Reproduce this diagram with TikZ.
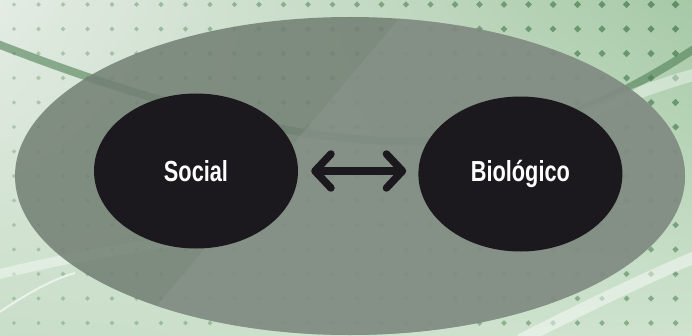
\documentclass[tikz,border=0pt]{standalone}
\usepackage{fontspec}
\newfontfamily\labelfont{Liberation Sans}[FakeStretch=0.75]
\usetikzlibrary{
  positioning,
  shapes.geometric,
  arrows.meta,
  shadings
}
\definecolor{bgpale}{HTML}{E4ECE4}
\definecolor{bggreen}{HTML}{A6C9A6}
\definecolor{bglow}{HTML}{C9DEC9}
\definecolor{bglowright}{HTML}{CFE3CF}
\definecolor{dotgreen}{HTML}{2F7A38}
\definecolor{swoosh}{HTML}{4F7F55}
\definecolor{ringgray}{HTML}{727F73}
\definecolor{ringlight}{HTML}{8A938C}
\definecolor{blob}{HTML}{1B191D}
\tikzset{
  field/.style={ellipse, fill=ringgray, fill opacity=0.86,
    minimum width=670pt, minimum height=318pt, inner sep=0pt},
  pole/.style={ellipse, fill=blob, text=white,
    font=\labelfont\bfseries\fontsize{29}{30}\selectfont,
    minimum width=204pt, minimum height=155pt, inner sep=0pt},
  link/.style={line width=7.5pt, draw=blob,
    {Straight Barb[length=16pt,width=34pt,round]}-{Straight Barb[length=16pt,width=34pt,round]},
    shorten <=13pt, shorten >=12pt}
}

\begin{document}
\begin{tikzpicture}[x=1pt,y=1pt]
  % backdrop: tinted wash, dot grid and swooshes
  \shade[upper left=bgpale, upper right=bggreen, lower left=bglow, lower right=bglowright]
    (0,0) rectangle (692,335);
  \useasboundingbox (0,0) rectangle (692,335);
  \foreach \i in {0,...,27}
    \foreach \j in {0,...,13} {
      \pgfmathsetmacro\t{\i/27*(0.5+0.5*\j/13)}
      \fill[dotgreen!70!gray, opacity={0.3+0.45*\t}] (14+24.5*\i, 12+24.5*\j)
        +(0,{2.2+1.6*\t}) -- +({2.2+1.6*\t},0) -- +(0,{-2.2-1.6*\t}) -- +({-2.2-1.6*\t},0) -- cycle;
    }
  \draw[swoosh, line width=8pt, opacity=0.6]
    (-5,292) .. controls (180,220) and (330,185) .. (460,195)
    .. controls (560,205) and (640,250) .. (700,290);
  \draw[white, line width=2pt, opacity=0.6]
    (-5,20) .. controls (25,40) and (50,55) .. (75,62);
  \draw[white, line width=10pt, opacity=0.4]
    (-5,60) .. controls (60,75) and (150,95) .. (260,100);
  \draw[white, line width=12pt, opacity=0.4]
    (520,190) .. controls (590,225) and (640,245) .. (700,262);
  \draw[white, line width=12pt, opacity=0.45]
    (520,-5) .. controls (580,25) and (640,55) .. (700,80);

  % outer field with its lighter half
  \node[field] (field) at (350,159) {};
  \begin{scope}
    \clip (field.center) ellipse [x radius=335, y radius=159];
    \fill[ringlight, opacity=0.6] (132,0) -- (415,335) -- (700,335) -- (700,0) -- cycle;
  \end{scope}

  \node[pole] (social) at (196,164) {Social};
  \node[pole, right=120pt of social, yshift=-3pt] (biologico) {Biológico};
  \draw[link] (social.east) -- (social.east -| biologico.west);
\end{tikzpicture}
\end{document}
